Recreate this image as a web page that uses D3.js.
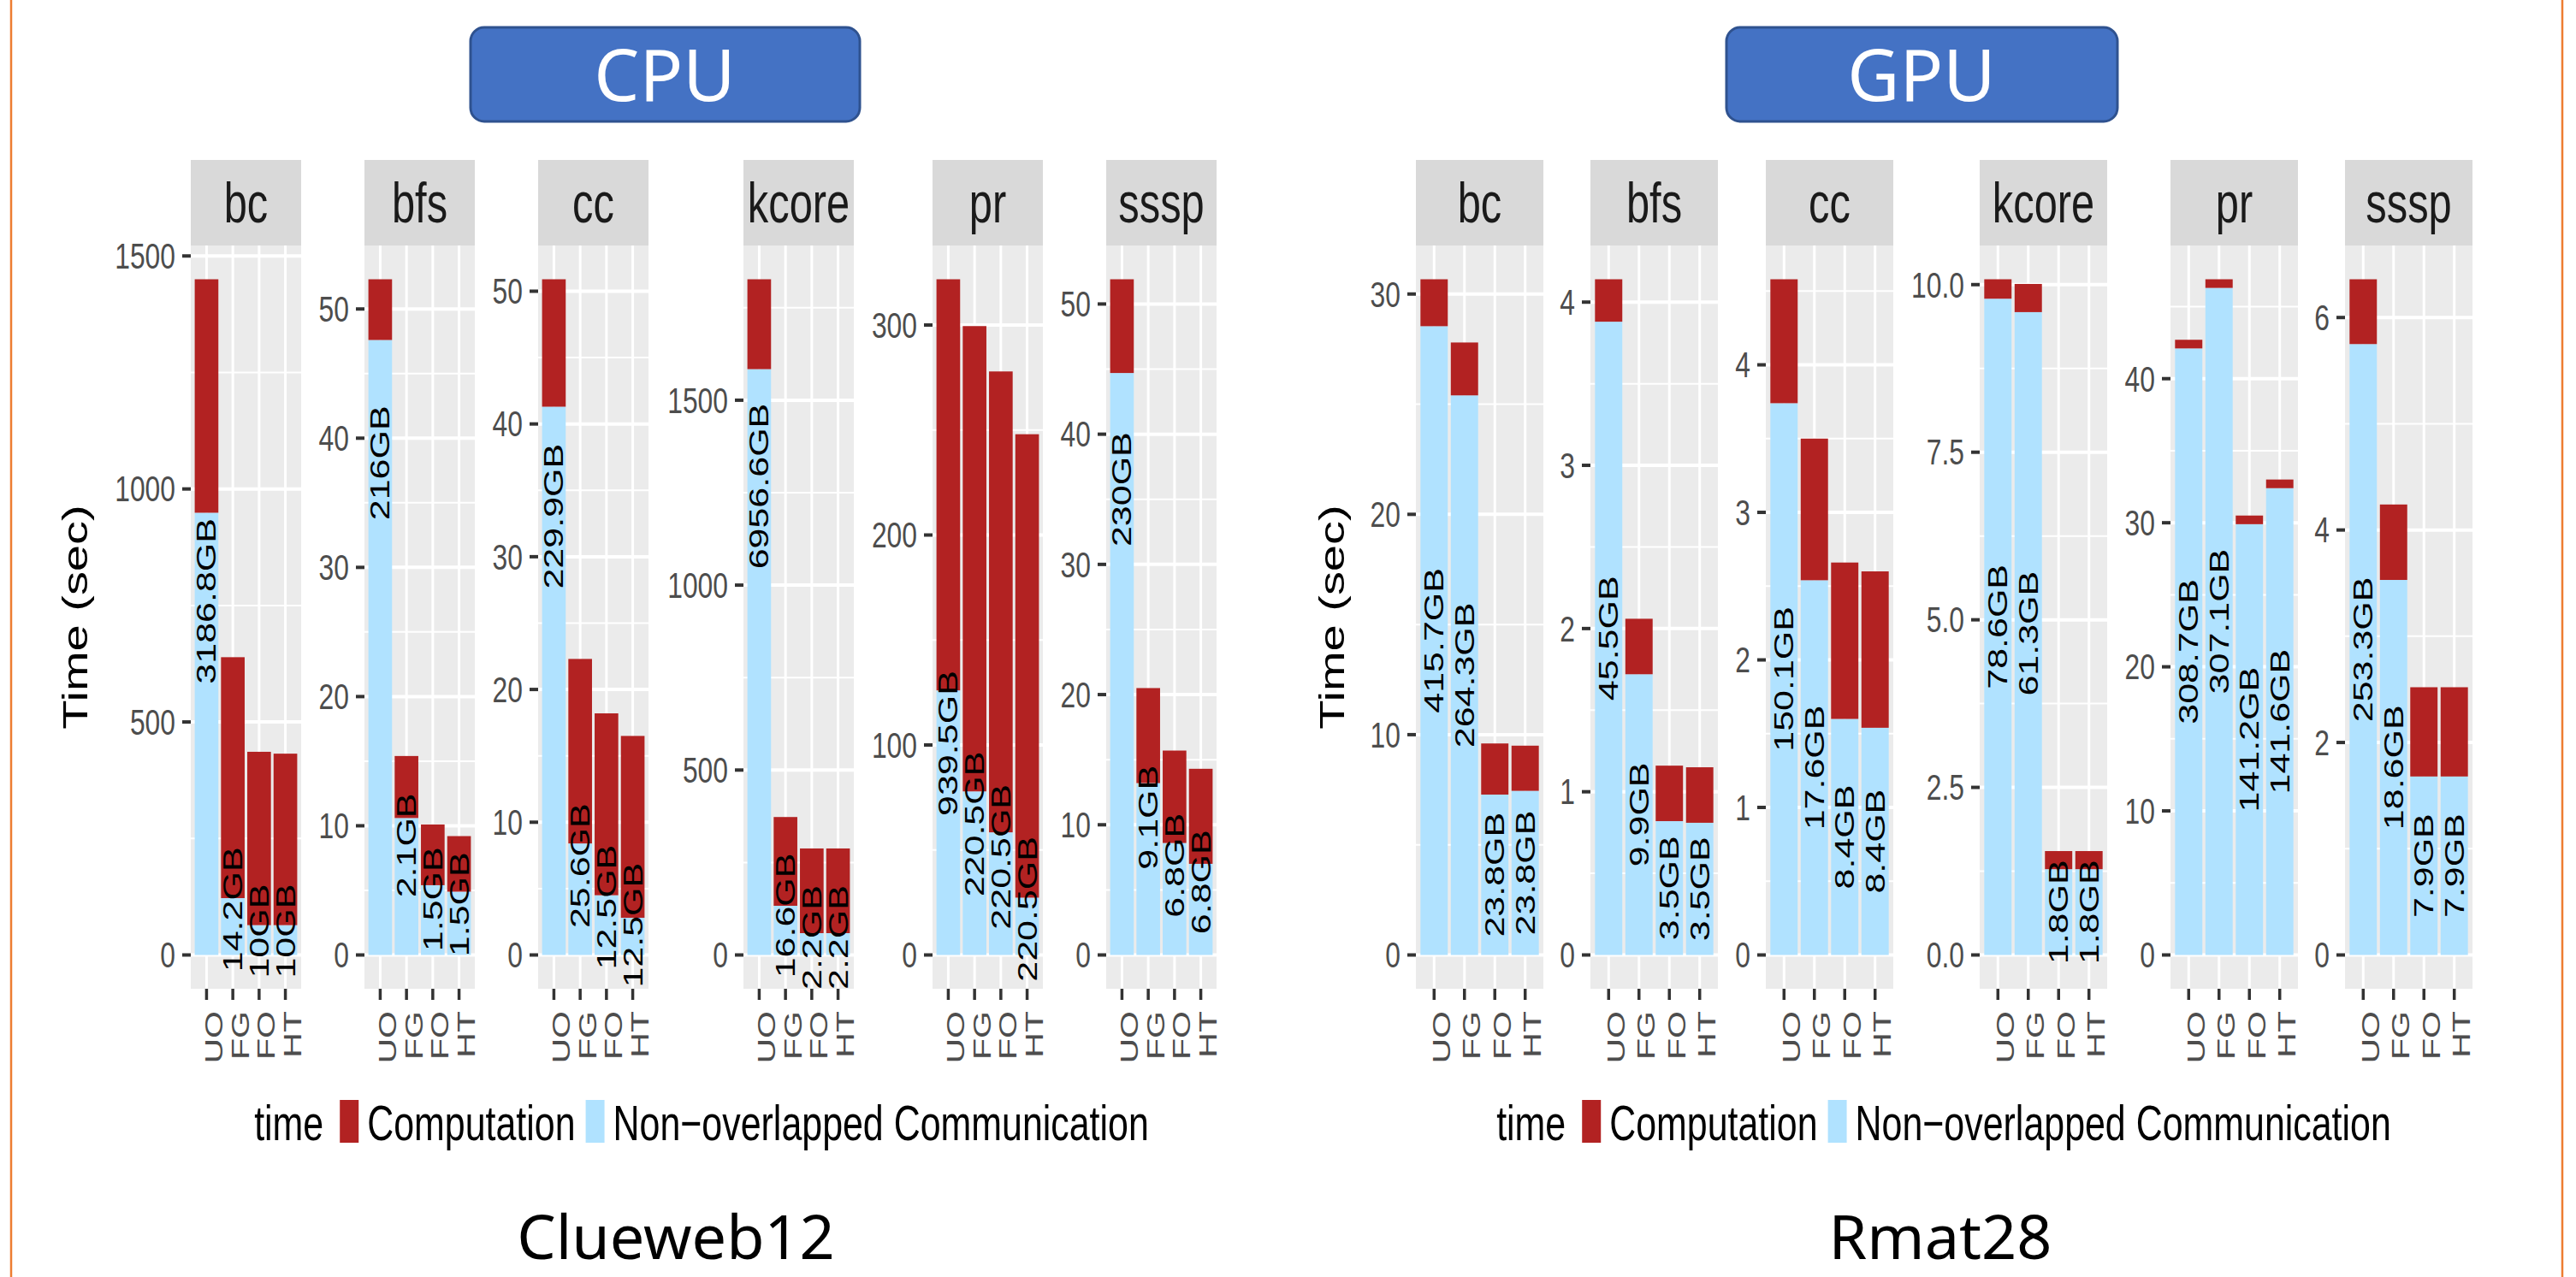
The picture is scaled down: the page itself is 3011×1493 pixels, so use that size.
<!DOCTYPE html>
<html>
<head>
<meta charset="utf-8">
<script src="https://cdn.jsdelivr.net/npm/d3@7"></script>
<style>
body{margin:0;background:#fff;}
</style>
</head>
<body>
<svg id="fig" width="3011" height="1493"></svg>
<script>
// facets and bars
const algos = ["bc","bfs","cc","kcore","pr","sssp"];
const modes = ["UO","FG","FO","HT"];

// CPU (Clueweb12) - one row per algo, values per mode
const cpuComm = [
  [949,122,64,64],
  [47.6,10.6,5.4,4.9],
  [41.3,8.4,4.5,2.8],
  [1584,133,59,59],
  [126,77.9,58.4,27.3],
  [44.7,13.2,8.6,7.0]
];
const cpuComp = [
  [501,517,372,368],
  [4.7,4.8,4.7,4.3],
  [9.6,13.9,13.7,13.7],
  [243,240,229,229],
  [195.8,221.6,219.5,220.7],
  [7.2,7.3,7.1,7.3]
];
const cpuMem = [
  ["3186.8GB","14.2GB","10GB","10GB"],
  ["216GB","2.1GB","1.5GB","1.5GB"],
  ["229.9GB","25.6GB","12.5GB","12.5GB"],
  ["6956.6GB","16.6GB","2.2GB","2.2GB"],
  ["939.5GB","220.5GB","220.5GB","220.5GB"],
  ["230GB","9.1GB","6.8GB","6.8GB"]
];
const cpuTicks = [
  [0,500,1000,1500],
  [0,10,20,30,40,50],
  [0,10,20,30,40,50],
  [0,500,1000,1500],
  [0,100,200,300],
  [0,10,20,30,40,50]
];

// GPU (Rmat28)
const gpuComm = [
  [28.54,25.4,7.28,7.45],
  [3.88,1.72,0.82,0.81],
  [3.74,2.54,1.60,1.54],
  [9.79,9.59,1.28,1.28],
  [42.1,46.3,29.9,32.4],
  [5.75,3.53,1.68,1.68]
];
const gpuComp = [
  [2.13,2.4,2.32,2.05],
  [0.26,0.34,0.34,0.34],
  [0.84,0.96,1.06,1.06],
  [0.29,0.42,0.27,0.27],
  [0.6,0.6,0.6,0.6],
  [0.61,0.71,0.84,0.84]
];
const gpuMem = [
  ["415.7GB","264.3GB","23.8GB","23.8GB"],
  ["45.5GB","9.9GB","3.5GB","3.5GB"],
  ["150.1GB","17.6GB","8.4GB","8.4GB"],
  ["78.6GB","61.3GB","1.8GB","1.8GB"],
  ["308.7GB","307.1GB","141.2GB","141.6GB"],
  ["253.3GB","18.6GB","7.9GB","7.9GB"]
];
const gpuTicks = [
  [0,10,20,30],
  [0,1,2,3,4],
  [0,1,2,3,4],
  [0,2.5,5,7.5,10],
  [0,10,20,30,40],
  [0,2,4,6]
];

const legendTitle = "time";
const seriesNames = ["Computation","Non\u2212overlapped Communication"];
const seriesColors = ["#B22222","#B0E2FF"];

// layout
const SX = 0.74;   // the ggplot figure is squeezed horizontally
const FONT = "'Liberation Sans', Arial, Helvetica, sans-serif";
const SLIDE_FONT = "'Noto Sans', 'Open Sans', sans-serif";
const STRIP_TOP = 187, PANEL_TOP = 287, PANEL_BOTTOM = 1156;

const svg = d3.select("#fig");

function squish(x, y, rot) {
  return `translate(${x},${y}) scale(${SX},1)` + (rot ? ` rotate(${rot})` : "");
}

// ggplot prints every break of an axis with the same number of decimals
function tickFormat(ticks) {
  return ticks.every(Number.isInteger) ? d3.format("d") : d3.format(".1f");
}

function drawFacets(o) {
  algos.forEach((algo, i) => {
    const x0 = o.panelX[i], w = o.panelW;
    const g = svg.append("g");
    const totals = modes.map((m, j) => o.comm[i][j] + o.comp[i][j]);
    const ymax = d3.max(totals);
    const y = d3.scaleLinear().domain([-0.05*ymax, 1.05*ymax]).range([PANEL_BOTTOM, PANEL_TOP]);
    const x = d3.scaleBand().domain(modes).range([x0, x0 + w]).paddingInner(0.1).paddingOuter(0.15);
    const ticks = o.ticks[i];
    const fmt = tickFormat(ticks);
    const step = ticks[1] - ticks[0];
    const dom = y.domain();
    let minors = ticks.map(t => t + step/2);
    minors.push(ticks[0] - step/2);
    minors = minors.filter(v => v > dom[0] && v < dom[1]);

    // strip
    g.append("rect").attr("x", x0).attr("y", STRIP_TOP).attr("width", w)
      .attr("height", PANEL_TOP - STRIP_TOP).attr("fill", "#D9D9D9");
    g.append("text").attr("transform", squish(x0 + w/2, (STRIP_TOP + PANEL_TOP)/2))
      .attr("text-anchor", "middle").attr("dominant-baseline", "central")
      .attr("font-family", FONT).attr("font-size", 66).attr("fill", "#1A1A1A").text(algo);

    // panel
    g.append("rect").attr("x", x0).attr("y", PANEL_TOP).attr("width", w)
      .attr("height", PANEL_BOTTOM - PANEL_TOP).attr("fill", "#EBEBEB");
    g.selectAll(".minor").data(minors).enter().append("line")
      .attr("x1", x0).attr("x2", x0 + w).attr("y1", d => y(d)).attr("y2", d => y(d))
      .attr("stroke", "#fff").attr("stroke-width", 2);
    g.selectAll(".major").data(ticks).enter().append("line")
      .attr("x1", x0).attr("x2", x0 + w).attr("y1", d => y(d)).attr("y2", d => y(d))
      .attr("stroke", "#fff").attr("stroke-width", 4);
    g.selectAll(".vgrid").data(modes).enter().append("line")
      .attr("x1", d => x(d) + x.bandwidth()/2).attr("x2", d => x(d) + x.bandwidth()/2)
      .attr("y1", PANEL_TOP).attr("y2", PANEL_BOTTOM)
      .attr("stroke", "#fff").attr("stroke-width", 3);

    // bars: communication at the bottom, computation stacked on top
    g.selectAll(".comm").data(modes).enter().append("rect")
      .attr("x", d => x(d)).attr("width", x.bandwidth())
      .attr("y", (d, j) => y(o.comm[i][j]))
      .attr("height", (d, j) => y(0) - y(o.comm[i][j]))
      .attr("fill", seriesColors[1]);
    g.selectAll(".comp").data(modes).enter().append("rect")
      .attr("x", d => x(d)).attr("width", x.bandwidth())
      .attr("y", (d, j) => y(totals[j]))
      .attr("height", (d, j) => y(o.comm[i][j]) - y(totals[j]))
      .attr("fill", seriesColors[0]);

    // memory labels
    g.selectAll(".lab").data(modes).enter().append("text")
      .attr("transform", (d, j) => squish(x(d) + x.bandwidth()/2, y(o.labelPos*o.comm[i][j]), -90))
      .attr("text-anchor", "middle").attr("dominant-baseline", "central")
      .attr("font-family", FONT).attr("font-size", 43).attr("fill", "#000")
      .text((d, j) => o.mem[i][j]);

    // y axis
    g.selectAll(".ytick").data(ticks).enter().append("line")
      .attr("x1", x0 - 10).attr("x2", x0).attr("y1", d => y(d)).attr("y2", d => y(d))
      .attr("stroke", "#333").attr("stroke-width", 4);
    g.selectAll(".ylab").data(ticks).enter().append("text")
      .attr("transform", d => squish(x0 - 18, y(d)))
      .attr("text-anchor", "end").attr("dominant-baseline", "central")
      .attr("font-family", FONT).attr("font-size", 43).attr("fill", "#4D4D4D")
      .text(d => fmt(d));

    // x axis
    g.selectAll(".xtick").data(modes).enter().append("line")
      .attr("x1", d => x(d) + x.bandwidth()/2).attr("x2", d => x(d) + x.bandwidth()/2)
      .attr("y1", PANEL_BOTTOM).attr("y2", PANEL_BOTTOM + 13)
      .attr("stroke", "#333").attr("stroke-width", 3.5);
    g.selectAll(".xlab").data(modes).enter().append("text")
      .attr("transform", d => squish(x(d) + x.bandwidth()/2 + 8, PANEL_BOTTOM + 26, -90))
      .attr("text-anchor", "end").attr("dominant-baseline", "central")
      .attr("font-family", FONT).attr("font-size", 41).attr("fill", "#4D4D4D")
      .text(d => d);
  });

  // y title
  svg.append("text").attr("transform", squish(o.yTitleX, (PANEL_TOP + PANEL_BOTTOM)/2, -90))
    .attr("text-anchor", "middle")
    .attr("font-family", FONT).attr("font-size", 56).attr("fill", "#000")
    .text("Time (sec)");

  drawLegend(o.legendCx);
}

function drawLegend(cx) {
  const g = svg.append("g");
  const base = 1333, keyTop = 1286, keyH = 50, keyW = 22;
  const parts = [];
  const t0 = g.append("text").attr("font-family", FONT).attr("font-size", 58).text(legendTitle);
  parts.push({el: t0, w: t0.node().getComputedTextLength()*SX, gap: 19});
  seriesNames.forEach((s, k) => {
    const r = g.append("rect").attr("y", keyTop).attr("width", keyW).attr("height", keyH)
      .attr("fill", seriesColors[k]);
    parts.push({el: r, w: keyW, gap: 10, rect: true});
    const t = g.append("text").attr("font-family", FONT).attr("font-size", 58).text(s);
    parts.push({el: t, w: t.node().getComputedTextLength()*SX, gap: 12});
  });
  parts[parts.length - 1].gap = 0;
  const total = d3.sum(parts, p => p.w + p.gap);
  let cur = cx - total/2;
  parts.forEach(p => {
    if (p.rect) p.el.attr("x", cur);
    else p.el.attr("transform", squish(cur, base));
    cur += p.w + p.gap;
  });
}

// slide frame
svg.append("line").attr("x1", 13).attr("x2", 13).attr("y1", 0).attr("y2", 1493)
  .attr("stroke", "#ED7D31").attr("stroke-width", 2.5);
svg.append("line").attr("x1", 2995).attr("x2", 2995).attr("y1", 0).attr("y2", 1493)
  .attr("stroke", "#ED7D31").attr("stroke-width", 2.5);

// header boxes
[["CPU", 550, 455, 777], ["GPU", 2018, 457, 2246]].forEach(b => {
  svg.append("rect").attr("x", b[1]).attr("y", 32).attr("width", b[2]).attr("height", 110)
    .attr("rx", 16).attr("fill", "#4472C4").attr("stroke", "#2F528F").attr("stroke-width", 3);
  svg.append("text").attr("x", b[3]).attr("y", 118).attr("text-anchor", "middle")
    .attr("font-family", SLIDE_FONT).attr("font-size", 84).attr("fill", "#fff").text(b[0]);
});

drawFacets({
  panelX: [223,426,629,869,1090,1293], panelW: 129,
  comm: cpuComm, comp: cpuComp, mem: cpuMem, ticks: cpuTicks,
  labelPos: 0.8, yTitleX: 102, legendCx: 820
});
drawFacets({
  panelX: [1655,1859,2064,2314,2537,2741], panelW: 149,
  comm: gpuComm, comp: gpuComp, mem: gpuMem, ticks: gpuTicks,
  labelPos: 0.5, yTitleX: 1571, legendCx: 2272
});

// dataset captions
svg.append("text").attr("x", 790).attr("y", 1472).attr("text-anchor", "middle")
  .attr("font-family", SLIDE_FONT).attr("font-size", 72).attr("fill", "#000").text("Clueweb12");
svg.append("text").attr("x", 2268).attr("y", 1472).attr("text-anchor", "middle")
  .attr("font-family", SLIDE_FONT).attr("font-size", 72).attr("fill", "#000").text("Rmat28");
</script>
</body>
</html>
